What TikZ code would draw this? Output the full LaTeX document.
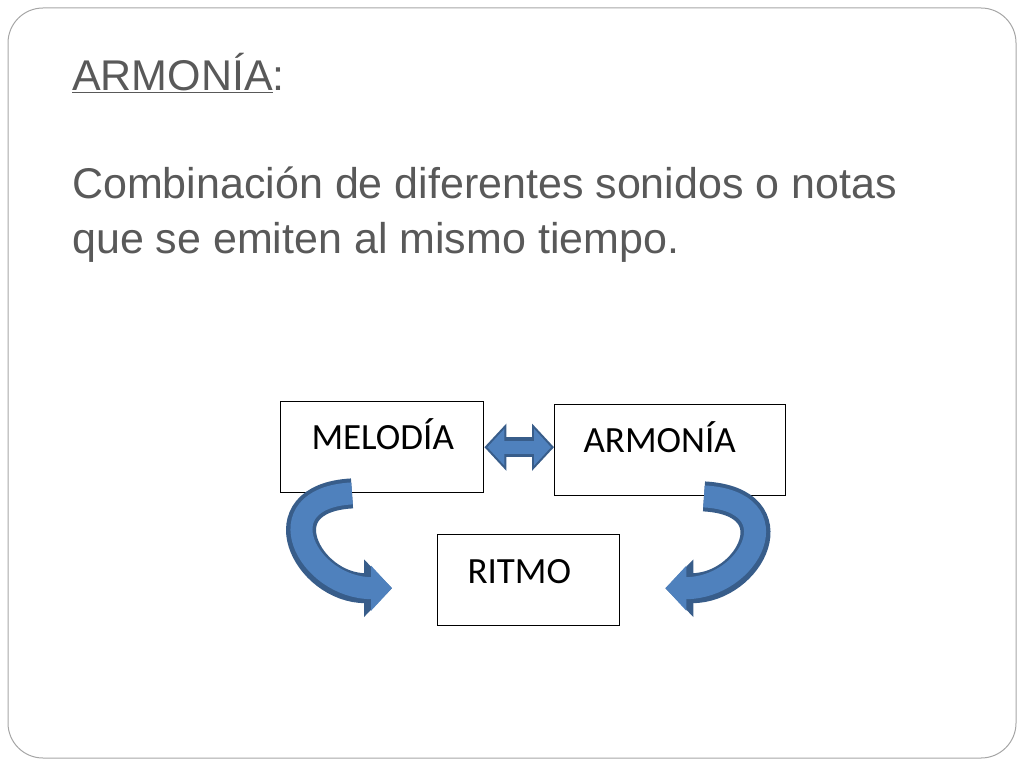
\documentclass[tikz,border=0pt]{standalone}
\usepackage{fontspec}
\setmainfont{Liberation Sans}
\newfontfamily\boxfont{Carlito}
\usetikzlibrary{positioning,arrows.meta,calc}
\definecolor{slidegray}{RGB}{89,89,89}
\definecolor{arrowfill}{RGB}{79,129,189}
\definecolor{arrowedge}{RGB}{56,93,138}
\tikzset{
    conceptbox/.style={draw=black, line width=1.4pt, rectangle, minimum width=#1, minimum height=91pt, inner sep=0pt},
    boxtext/.style={font=\boxfont\fontsize{37}{37}\selectfont, text=black},
    bigarrow_edge/.style={draw=arrowedge, line width=30pt, -{Triangle[width=56pt,length=28pt]}},
    bigarrow_fill/.style={draw=arrowfill, line width=22pt, -{Triangle[width=44pt,length=21pt]}},
    bothways_edge/.style={draw=arrowedge, line width=20pt, {Triangle[width=46pt,length=22pt]}-{Triangle[width=46pt,length=22pt]}},
    bothways_fill/.style={draw=arrowfill, line width=13pt, {Triangle[width=36pt,length=17pt]}-{Triangle[width=36pt,length=17pt]}}
}
\begin{document}
\begin{tikzpicture}[x=1pt, y=-1pt]
    \useasboundingbox (0,0) rectangle (1024,768);
    \draw[gray!70, line width=1pt, rounded corners=35pt] (8,8) rectangle (1016,758);
    % heading and text
    \node[anchor=base west, text=slidegray, font=\fontsize{43}{43}\selectfont, inner sep=0pt] (title) at (72,90) {\underline{ARMONÍA}:};
    \node[anchor=base west, text=slidegray, font=\fontsize{43}{55}\selectfont, inner sep=0pt, align=left] (body) at (72,253)
        {Combinación de diferentes sonidos o notas\\que se emiten al mismo tiempo.};
    % boxes
    \node[conceptbox=203pt, anchor=north west] (mel) at (280,401) {};
    \node[conceptbox=231pt, anchor=north west] (arm) at (554,404) {};
    \node[conceptbox=182pt, anchor=north west] (rit) at (437,534) {};
    \node[boxtext, anchor=base west] (meltext) at (308,449) {MELODÍA};
    \node[boxtext, anchor=base west] (armtext) at (580,452) {ARMONÍA};
    \node[boxtext, anchor=base west] (rittext) at (464,583) {RITMO};
    % arrows
    \coordinate (leftstart) at ($(mel.south west)+(72,0)$);
    \coordinate (leftend) at ($(rit.west)+(-45,8)$);
    \coordinate (rightstart) at ($(arm.south west)+(150,0)$);
    \coordinate (rightend) at ($(rit.east)+(45,8)$);
    \foreach \s in {bigarrow_edge, bigarrow_fill} {
        \draw[\s] (leftstart) .. controls +(-90,5) and +(-85,0) .. (leftend);
        \draw[\s] (rightstart) .. controls +(90,5) and +(85,0) .. (rightend);
    }
    \draw[bothways_edge] (mel.east) -- (arm.west |- mel.east);
    \draw[bothways_fill] ($(mel.east)+(3,0)$) -- ($(arm.west |- mel.east)+(-3,0)$);
\end{tikzpicture}
\end{document}
